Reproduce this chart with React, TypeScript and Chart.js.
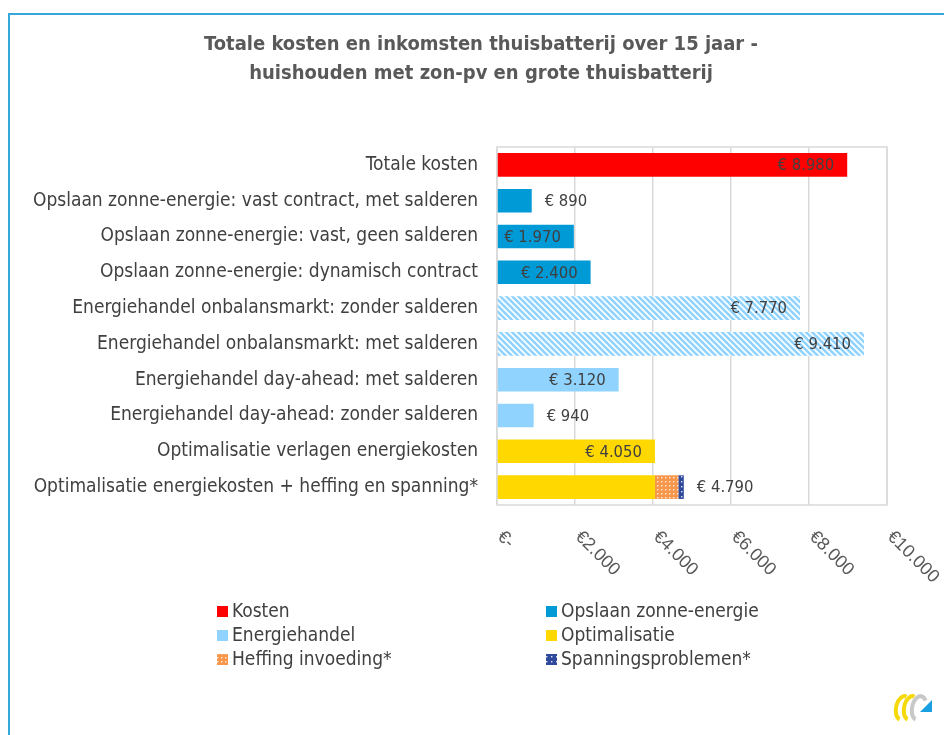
import React, { useEffect, useRef } from "react";
import { Chart, registerables } from "chart.js";

Chart.register(...registerables);

// ---------- data ----------
const titleLines = [
  "Totale kosten en inkomsten thuisbatterij over 15 jaar -",
  "huishouden met zon-pv en grote thuisbatterij",
];

const categories = [
  "Totale kosten",
  "Opslaan zonne-energie: vast contract, met salderen",
  "Opslaan zonne-energie: vast, geen salderen",
  "Opslaan zonne-energie: dynamisch contract",
  "Energiehandel onbalansmarkt: zonder salderen",
  "Energiehandel onbalansmarkt: met salderen",
  "Energiehandel day-ahead: met salderen",
  "Energiehandel day-ahead: zonder salderen",
  "Optimalisatie verlagen energiekosten",
  "Optimalisatie energiekosten + heffing en spanning*",
];

const kosten = [8980, null, null, null, null, null, null, null, null, null];
const opslaan = [null, 890, 1970, 2400, null, null, null, null, null, null];
const energiehandel = [null, null, null, null, 7770, 9410, 3120, 940, null, null];
const energiehandelHatched = [false, false, false, false, true, true, false, false, false, false];
const optimalisatie = [null, null, null, null, null, null, null, null, 4050, 4050];
const heffing = [null, null, null, null, null, null, null, null, null, 600];
const spanning = [null, null, null, null, null, null, null, null, null, 140];

const xTickValues = [0, 2000, 4000, 6000, 8000, 10000];
const xTickLabels = ["€-", "€2.000", "€4.000", "€6.000", "€8.000", "€10.000"];

const legendLabels = [
  "Kosten",
  "Opslaan zonne-energie",
  "Energiehandel",
  "Optimalisatie",
  "Heffing invoeding*",
  "Spanningsproblemen*",
];

// ---------- styles ----------
const FONT = "'DejaVu Sans Condensed', 'DejaVu Sans', sans-serif";
const TEXT = "#404040";
const RED = "#ff0000";
const BLUE = "#009ad6";
const LIGHTBLUE = "#8fd3fe";
const YELLOW = "#ffd800";
const ORANGE = "#f8964a";
const DARKBLUE = "#2f4a9c";

function makeStripes(): CanvasPattern | string {
  const c = document.createElement("canvas");
  c.width = 6;
  c.height = 6;
  const g = c.getContext("2d");
  if (!g) return LIGHTBLUE;
  g.fillStyle = "#ffffff";
  g.fillRect(0, 0, 6, 6);
  g.strokeStyle = LIGHTBLUE;
  g.lineWidth = 2.6;
  for (let k = -1; k <= 1; k++) {
    g.beginPath();
    g.moveTo(k * 6 - 1, -1);
    g.lineTo(k * 6 + 7, 7);
    g.stroke();
  }
  return g.createPattern(c, "repeat") || LIGHTBLUE;
}

function makeDots(bg: string, size: number, dot: number): CanvasPattern | string {
  const c = document.createElement("canvas");
  c.width = size;
  c.height = size;
  const g = c.getContext("2d");
  if (!g) return bg;
  g.fillStyle = bg;
  g.fillRect(0, 0, size, size);
  g.fillStyle = "rgba(255,255,255,0.85)";
  g.fillRect(1, 1, dot, dot);
  return g.createPattern(c, "repeat") || bg;
}

function fmt(v: number): string {
  return String(Math.round(v)).replace(/\B(?=(\d{3})+(?!\d))/g, ".");
}

export default function App() {
  const ref = useRef<HTMLCanvasElement | null>(null);

  useEffect(() => {
    const canvas = ref.current;
    if (!canvas) return;

    const stripes = makeStripes();
    const orangeDots = makeDots(ORANGE, 4, 1.4);
    const blueDots = makeDots(DARKBLUE, 5, 1.4);
    const legendFills: (string | CanvasPattern)[] = [RED, BLUE, LIGHTBLUE, YELLOW, orangeDots, blueDots];

    const decor = {
      id: "decor",
      beforeDraw(chart: any) {
        const ctx = chart.ctx;
        ctx.save();
        ctx.fillStyle = "#ffffff";
        ctx.fillRect(0, 0, chart.width, chart.height);
        // outer frame
        ctx.strokeStyle = "#35a7d9";
        ctx.lineWidth = 2;
        ctx.strokeRect(9, 14, chart.width + 20, chart.height + 20);
        ctx.restore();
      },
      beforeDatasetsDraw(chart: any) {
        const { ctx, chartArea: a } = chart;
        ctx.save();
        ctx.strokeStyle = "#d9d9d9";
        ctx.lineWidth = 1.5;
        ctx.strokeRect(a.left, a.top, a.right - a.left, a.bottom - a.top);
        ctx.restore();
      },
      afterDatasetsDraw(chart: any) {
        const { ctx } = chart;
        const xs = chart.scales.x;
        const ys = chart.scales.y;
        ctx.save();
        ctx.font = `16.5px ${FONT}`;
        ctx.fillStyle = TEXT;
        ctx.textBaseline = "middle";
        categories.forEach((_, i) => {
          let total = 0;
          let segs = 0;
          chart.data.datasets.forEach((ds: any) => {
            const v = ds.data[i];
            if (v != null) {
              total += v;
              segs++;
            }
          });
          if (!segs) return;
          const text = "€ " + fmt(total);
          const xEnd = xs.getPixelForValue(total);
          const y = ys.getPixelForValue(i) + 1;
          const w = ctx.measureText(text).width;
          const barW = xEnd - xs.getPixelForValue(0);
          if (segs === 1 && w + 16 <= barW) {
            ctx.textAlign = "right";
            ctx.fillText(text, xEnd - 13, y);
          } else {
            ctx.textAlign = "left";
            ctx.fillText(text, xEnd + 13, y);
          }
        });
        ctx.restore();
      },
      afterDraw(chart: any) {
        const { ctx } = chart;
        const xs = chart.scales.x;
        ctx.save();
        // title
        ctx.fillStyle = "#595959";
        ctx.font = `bold 20px ${FONT}`;
        ctx.textAlign = "center";
        ctx.textBaseline = "middle";
        titleLines.forEach((t, i) => ctx.fillText(t, 481, 45 + i * 29));

        // rotated x tick labels
        ctx.fillStyle = "#595959";
        ctx.font = `18px 'Liberation Sans', Arial, sans-serif`;
        ctx.textAlign = "left";
        ctx.textBaseline = "middle";
        xTickValues.forEach((v, i) => {
          const px = xs.getPixelForValue(v);
          ctx.save();
          ctx.translate(px + 3, 534);
          ctx.rotate(Math.PI / 4);
          ctx.fillText(xTickLabels[i], 0, 0);
          ctx.restore();
        });

        // legend (two columns)
        ctx.font = `19px ${FONT}`;
        ctx.textBaseline = "middle";
        ctx.textAlign = "left";
        const colX = [217, 546];
        const rowY = [611, 635, 659];
        legendLabels.forEach((lab, i) => {
          const cx = colX[i % 2];
          const cy = rowY[Math.floor(i / 2)];
          ctx.fillStyle = legendFills[i] as any;
          ctx.fillRect(cx, cy - 5, 11, 11);
          ctx.fillStyle = TEXT;
          ctx.fillText(lab, cx + 15, cy + 1);
        });

        // small logo
        ctx.lineWidth = 4;
        ctx.strokeStyle = "#f5d90a";
        ctx.beginPath();
        ctx.ellipse(903, 708, 7, 12, 0.2, Math.PI * 0.55, Math.PI * 1.55);
        ctx.stroke();
        ctx.beginPath();
        ctx.ellipse(911, 708, 7, 12, 0.2, Math.PI * 0.55, Math.PI * 1.55);
        ctx.stroke();
        ctx.strokeStyle = "#c8c8c8";
        ctx.beginPath();
        ctx.ellipse(919, 708, 7, 12, 0.2, Math.PI * 0.55, Math.PI * 1.75);
        ctx.stroke();
        ctx.fillStyle = "#1aa0e0";
        ctx.beginPath();
        ctx.moveTo(920, 712);
        ctx.lineTo(932, 712);
        ctx.lineTo(932, 700);
        ctx.closePath();
        ctx.fill();
        ctx.restore();
      },
    };

    const common = { borderWidth: 0, barPercentage: 0.66, categoryPercentage: 1.0 };

    const chart = new Chart(canvas, {
      type: "bar",
      data: {
        labels: categories,
        datasets: [
          { label: legendLabels[0], data: kosten, backgroundColor: RED, ...common },
          { label: legendLabels[1], data: opslaan, backgroundColor: BLUE, ...common },
          {
            label: legendLabels[2],
            data: energiehandel,
            backgroundColor: (c: any) => (energiehandelHatched[c.dataIndex] ? stripes : LIGHTBLUE),
            ...common,
          },
          { label: legendLabels[3], data: optimalisatie, backgroundColor: YELLOW, ...common },
          { label: legendLabels[4], data: heffing, backgroundColor: orangeDots, ...common },
          { label: legendLabels[5], data: spanning, backgroundColor: blueDots, ...common },
        ] as any,
      },
      options: {
        indexAxis: "y",
        responsive: false,
        animation: false,
        layout: { padding: { left: 8, right: 57, top: 147, bottom: 230 } },
        plugins: {
          legend: { display: false },
          title: { display: false },
          tooltip: { enabled: false },
        },
        scales: {
          x: {
            stacked: true,
            min: 0,
            max: 10000,
            ticks: { stepSize: 2000, display: false },
            grid: { color: "#d9d9d9", lineWidth: 1.5, drawTicks: false },
            border: { display: false },
            afterFit: (s: any) => {
              s.height = 0;
            },
          },
          y: {
            stacked: true,
            grid: { display: false, drawTicks: false },
            border: { display: false },
            ticks: {
              color: TEXT,
              padding: 19,
              font: { family: FONT, size: 19 },
              autoSkip: false,
            },
            afterFit: (s: any) => {
              s.width = 489;
            },
          },
        },
      } as any,
      plugins: [decor],
    });

    return () => chart.destroy();
  }, []);

  return (
    <div style={{ position: "absolute", left: 0, top: 0, width: 944, height: 735, background: "#fff" }}>
      <canvas ref={ref} width={944} height={735} style={{ display: "block" }} />
    </div>
  );
}
